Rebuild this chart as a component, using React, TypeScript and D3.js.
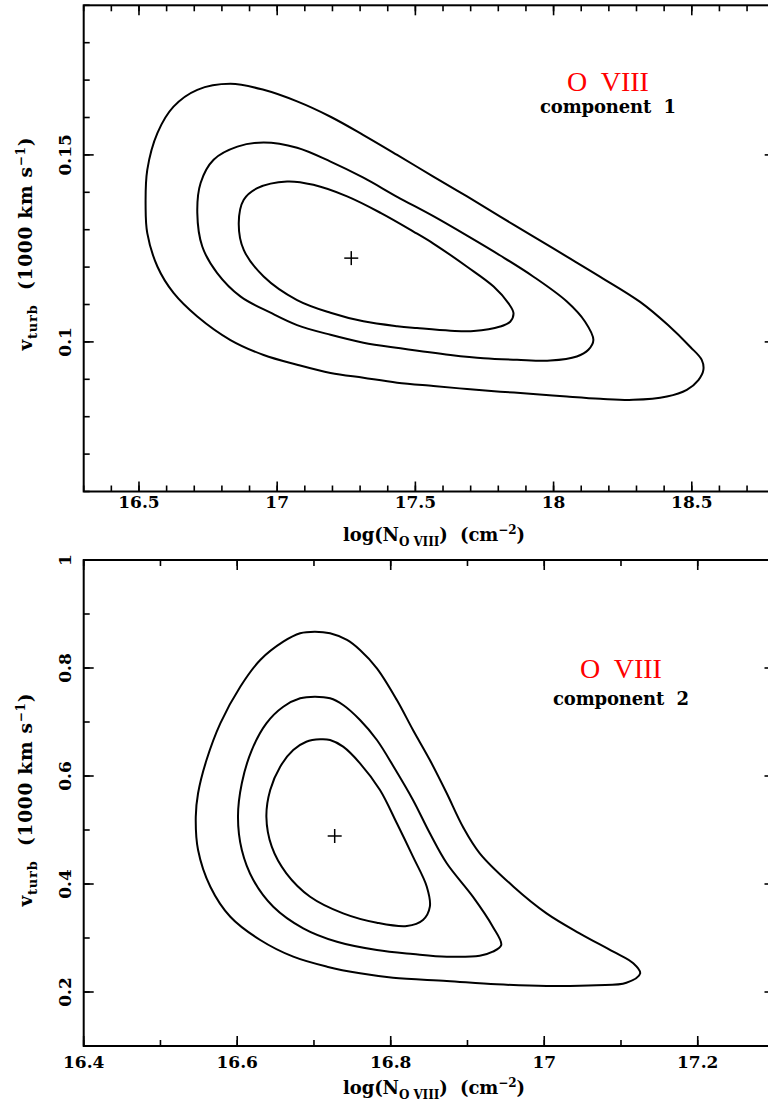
import React from 'react';
import * as d3 from 'd3';

// ---------- data ----------
// Panel 1 (component 1): x = log N(O VIII), y = v_turb (1000 km/s)
const p1XTicks = [16.5, 17, 17.5, 18, 18.5];
const p1YTicks = [0.1, 0.15];
const p1XDomain = [16.3, 18.8];
const p1YDomain = [0.06, 0.19];
const p1Best = [17.268, 0.1224];

const p1Outer: [number, number][] = [
  [16.524, 0.1362], [16.530, 0.1460], [16.567, 0.1559], [16.625, 0.1629], [16.711, 0.1674],
  [16.831, 0.1690], [16.951, 0.1674], [17.072, 0.1643], [17.193, 0.1602], [17.312, 0.1553],
  [17.434, 0.1500], [17.565, 0.1442], [17.687, 0.1389], [17.807, 0.1335], [17.926, 0.1282],
  [18.048, 0.1228], [18.169, 0.1174], [18.313, 0.1107], [18.414, 0.1045], [18.494, 0.0987],
  [18.536, 0.0952], [18.542, 0.0925], [18.524, 0.0898], [18.482, 0.0872], [18.410, 0.0854],
  [18.288, 0.0845], [18.169, 0.0848], [18.048, 0.0854], [17.926, 0.0861], [17.807, 0.0867],
  [17.687, 0.0874], [17.565, 0.0882], [17.434, 0.0891], [17.312, 0.0904], [17.193, 0.0917],
  [17.072, 0.0939], [16.951, 0.0965], [16.831, 0.1005], [16.711, 0.1068], [16.625, 0.1131],
  [16.567, 0.1201], [16.530, 0.1291],
];
const p1Middle: [number, number][] = [
  [16.711, 0.1345], [16.723, 0.1425], [16.770, 0.1487], [16.856, 0.1522], [16.951, 0.1533],
  [17.072, 0.1519], [17.193, 0.1482], [17.312, 0.1439], [17.434, 0.1388], [17.565, 0.1336],
  [17.687, 0.1284], [17.807, 0.1231], [17.926, 0.1175], [18.048, 0.1108], [18.114, 0.1054],
  [18.144, 0.1005], [18.126, 0.0979], [18.084, 0.0961], [17.988, 0.0950], [17.868, 0.0952],
  [17.747, 0.0956], [17.627, 0.0965], [17.446, 0.0983], [17.312, 0.0998], [17.193, 0.1019],
  [17.072, 0.1045], [16.976, 0.1078], [16.868, 0.1121], [16.783, 0.1184], [16.729, 0.1255],
];
const p1Inner: [number, number][] = [
  [16.861, 0.1318], [16.879, 0.1380], [16.928, 0.1411], [17.036, 0.1429], [17.131, 0.1420],
  [17.253, 0.1389], [17.374, 0.1345], [17.493, 0.1295], [17.565, 0.1263], [17.687, 0.1201],
  [17.783, 0.1148], [17.837, 0.1103], [17.855, 0.1077], [17.843, 0.1054], [17.807, 0.1041],
  [17.711, 0.1029], [17.627, 0.1030], [17.506, 0.1037], [17.434, 0.1042], [17.312, 0.1055],
  [17.193, 0.1078], [17.072, 0.1112], [16.951, 0.1175], [16.879, 0.1246],
];

// Panel 2 (component 2)
const p2XTicks = [16.4, 16.6, 16.8, 17, 17.2];
const p2YTicks = [0.2, 0.4, 0.6, 0.8, 1];
const p2XDomain = [16.4, 17.3];
const p2YDomain = [0.1, 1];
const p2Best = [16.727, 0.4889];

const p2Outer: [number, number][] = [
  [16.546, 0.5246], [16.549, 0.568], [16.560, 0.6296], [16.578, 0.6976], [16.604, 0.7654],
  [16.630, 0.8148], [16.660, 0.8487], [16.682, 0.8643], [16.701, 0.8672], [16.721, 0.8643],
  [16.743, 0.8519], [16.760, 0.8333], [16.782, 0.7994], [16.808, 0.7407], [16.829, 0.6852],
  [16.851, 0.6296], [16.873, 0.568], [16.894, 0.5061], [16.916, 0.4569], [16.960, 0.3950],
  [17.003, 0.3457], [17.046, 0.3087], [17.090, 0.2746], [17.116, 0.2531], [17.125, 0.2346],
  [17.107, 0.2172], [17.068, 0.2124], [17.003, 0.2111], [16.938, 0.2143], [16.873, 0.2204],
  [16.803, 0.2265], [16.760, 0.2346], [16.717, 0.2469], [16.673, 0.2654], [16.630, 0.2963],
  [16.591, 0.3394], [16.565, 0.3950], [16.549, 0.4630],
];
const p2Middle: [number, number][] = [
  [16.601, 0.5246], [16.606, 0.5865], [16.619, 0.6481], [16.638, 0.6976], [16.660, 0.7283],
  [16.682, 0.7439], [16.701, 0.7469], [16.721, 0.7439], [16.738, 0.7315], [16.760, 0.7037],
  [16.782, 0.6667], [16.805, 0.6143], [16.829, 0.5556], [16.851, 0.4939], [16.873, 0.4383],
  [16.907, 0.3765], [16.933, 0.3209], [16.944, 0.2870], [16.933, 0.2746], [16.916, 0.2672],
  [16.873, 0.2654], [16.829, 0.2704], [16.782, 0.2778], [16.730, 0.2931], [16.686, 0.3180],
  [16.647, 0.3580], [16.621, 0.4074], [16.606, 0.4630],
];
const p2Inner: [number, number][] = [
  [16.638, 0.5246], [16.643, 0.5741], [16.656, 0.6172], [16.673, 0.6481], [16.690, 0.6635],
  [16.708, 0.6680], [16.721, 0.6667], [16.738, 0.6543], [16.760, 0.6235], [16.786, 0.5741],
  [16.808, 0.5124], [16.829, 0.4506], [16.847, 0.3950], [16.851, 0.3580], [16.842, 0.3333],
  [16.821, 0.3222], [16.782, 0.3283], [16.738, 0.3457], [16.695, 0.3765], [16.664, 0.4198],
  [16.645, 0.4691],
];

const ionLabel = 'O  VIII';
const compLabels = ['component  1', 'component  2'];

// ---------- drawing ----------
const FONT = "'DejaVu Serif', serif";

type PanelProps = {
  left: number; right: number; top: number; bottom: number;
  xDomain: number[]; yDomain: number[];
  xTicks: number[]; yTicks: number[];
  xMinorStep: number; yMinorStep: number;
  contours: [number, number][][];
  best: number[];
  label: string; labelX: number; labelY: number;
  comp: string; compY: number;
  tickLabelY: number; titleY: number; yTitleX: number; yTitleC: number;
};

function Panel(p: PanelProps) {
  const x = d3.scaleLinear().domain(p.xDomain).range([p.left, p.right]);
  const y = d3.scaleLinear().domain(p.yDomain).range([p.bottom, p.top]);
  const line = d3.line<[number, number]>()
    .x(d => x(d[0])).y(d => y(d[1]))
    .curve(d3.curveCatmullRomClosed.alpha(0.5));

  const nx = Math.round((p.xDomain[1] - p.xDomain[0]) / p.xMinorStep);
  const ny = Math.round((p.yDomain[1] - p.yDomain[0]) / p.yMinorStep);
  const xMinor = d3.range(0, nx + 1).map(i => p.xDomain[0] + i * p.xMinorStep);
  const yMinor = d3.range(0, ny + 1).map(i => p.yDomain[0] + i * p.yMinorStep);
  const MAJ = 10, MIN = 6;
  const bx = x(p.best[0]), by = y(p.best[1]);

  return (
    <g>
      <rect x={p.left} y={p.top} width={p.right - p.left} height={p.bottom - p.top}
        fill="none" stroke="#000" strokeWidth={2} />
      {xMinor.map((v, i) => (
        <g key={'xm' + i}>
          <line x1={x(v)} x2={x(v)} y1={p.bottom} y2={p.bottom - MIN} stroke="#000" strokeWidth={1.6} />
          <line x1={x(v)} x2={x(v)} y1={p.top} y2={p.top + MIN} stroke="#000" strokeWidth={1.6} />
        </g>
      ))}
      {yMinor.map((v, i) => (
        <g key={'ym' + i}>
          <line x1={p.left} x2={p.left + MIN} y1={y(v)} y2={y(v)} stroke="#000" strokeWidth={1.6} />
          <line x1={p.right} x2={p.right - MIN} y1={y(v)} y2={y(v)} stroke="#000" strokeWidth={1.6} />
        </g>
      ))}
      {p.xTicks.map((v, i) => (
        <g key={'xM' + i}>
          <line x1={x(v)} x2={x(v)} y1={p.bottom} y2={p.bottom - MAJ} stroke="#000" strokeWidth={1.6} />
          <line x1={x(v)} x2={x(v)} y1={p.top} y2={p.top + MAJ} stroke="#000" strokeWidth={1.6} />
          <text x={x(v)} y={p.tickLabelY} textAnchor="middle" fontFamily={FONT}
            fontWeight="bold" fontSize={17}>{String(v)}</text>
        </g>
      ))}
      {p.yTicks.map((v, i) => (
        <g key={'yM' + i}>
          <line x1={p.left} x2={p.left + MAJ} y1={y(v)} y2={y(v)} stroke="#000" strokeWidth={1.6} />
          <line x1={p.right} x2={p.right - MAJ} y1={y(v)} y2={y(v)} stroke="#000" strokeWidth={1.6} />
          <text transform={`translate(71,${y(v)}) rotate(-90)`} textAnchor="middle"
            fontFamily={FONT} fontWeight="bold" fontSize={17}>{String(v)}</text>
        </g>
      ))}
      {p.contours.map((c, i) => (
        <path key={'c' + i} d={line(c) || ''} fill="none" stroke="#000" strokeWidth={2} />
      ))}
      <line x1={bx - 7} x2={bx + 7} y1={by} y2={by} stroke="#000" strokeWidth={1.5} />
      <line x1={bx} x2={bx} y1={by - 7} y2={by + 7} stroke="#000" strokeWidth={1.5} />
      <text x={p.labelX} y={p.labelY} textAnchor="middle" fill="#ff0000"
        fontFamily="'Liberation Serif', serif" fontSize={28} style={{ whiteSpace: 'pre' }}>{p.label}</text>
      <text x={p.labelX} y={p.compY} textAnchor="middle" fill="#000"
        fontFamily={FONT} fontWeight="bold" fontSize={18} textLength={136} lengthAdjust="spacing"
        style={{ whiteSpace: 'pre' }}>{p.comp}</text>
      <text x={343} y={p.titleY} fontFamily={FONT} fontWeight="bold" fontSize={18}
        textLength={182} lengthAdjust="spacing" style={{ whiteSpace: 'pre' }}>
        log(N<tspan dy={5} fontSize={12}>O VIII</tspan><tspan dy={-5}>)  (cm</tspan>
        <tspan dy={-7} fontSize={12}>−2</tspan><tspan dy={7}>)</tspan>
      </text>
      <text transform={`translate(${p.yTitleX},${p.yTitleC}) rotate(-90)`} textAnchor="middle"
        fontFamily={FONT} fontWeight="bold" fontSize={18.5} textLength={213} lengthAdjust="spacing"
        style={{ whiteSpace: 'pre' }}>
        v<tspan dy={5} fontSize={13}>turb</tspan><tspan dy={-5}>  (1000 km s</tspan>
        <tspan dy={-7} fontSize={12}>−1</tspan><tspan dy={7}>)</tspan>
      </text>
    </g>
  );
}

export default function App() {
  return (
    <svg width={768} height={1110} style={{ position: 'absolute', left: 0, top: 0, background: '#fff' }}>
      <rect x={0} y={0} width={768} height={1110} fill="#fff" />
      <Panel left={83.7} right={774.7} top={5.3} bottom={491.5}
        xDomain={p1XDomain} yDomain={p1YDomain} xTicks={p1XTicks} yTicks={p1YTicks}
        xMinorStep={0.1} yMinorStep={0.01}
        contours={[p1Outer, p1Middle, p1Inner]} best={p1Best}
        label={ionLabel} labelX={608} labelY={91} comp={compLabels[0]} compY={113}
        tickLabelY={508} titleY={541} yTitleX={32} yTitleC={244} />
      <Panel left={83.7} right={774.5} top={560} bottom={1046}
        xDomain={p2XDomain} yDomain={p2YDomain} xTicks={p2XTicks} yTicks={p2YTicks}
        xMinorStep={0.1} yMinorStep={0.1}
        contours={[p2Outer, p2Middle, p2Inner]} best={p2Best}
        label={ionLabel} labelX={621} labelY={678} comp={compLabels[1]} compY={705}
        tickLabelY={1068} titleY={1094} yTitleX={32} yTitleC={800} />
    </svg>
  );
}
